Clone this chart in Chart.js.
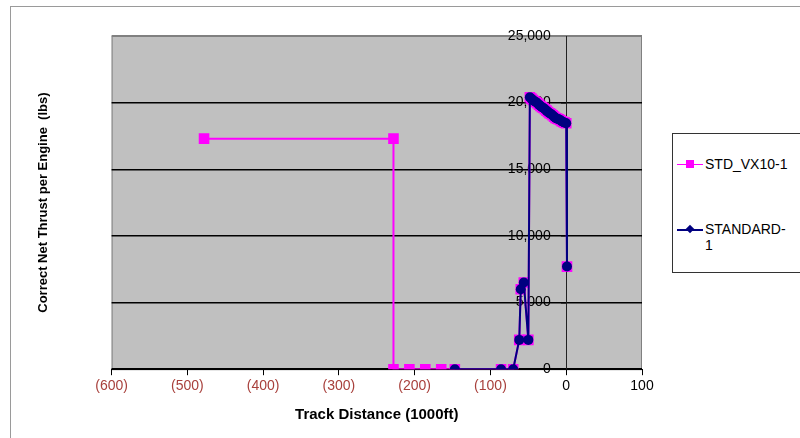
<!DOCTYPE html>
<html>
<head>
<meta charset="utf-8">
<script src="https://cdn.jsdelivr.net/npm/chart.js@4.4.1/dist/chart.umd.min.js"></script>
<style>
  body { margin: 0; background: #fff; font-family: "Liberation Sans", Arial, sans-serif; }
  #wrap { position: relative; width: 800px; height: 438px; overflow: hidden; }
  #frame { position: absolute; left: 10px; top: 6px; width: 820px; height: 460px; border: 1px solid #9a9a9a; }
  canvas { position: absolute; left: 0; top: 0; }
  #legend { position: absolute; left: 672px; top: 133px; width: 150px; height: 138px; border: 1px solid #333; background: #fff; }
  .item { position: absolute; left: 4px; font-size: 14px; color: #000; line-height: 16px; }
  .line { position: absolute; left: 0; width: 26px; height: 2px; }
  .mk { position: absolute; }
  .txt { position: absolute; left: 28px; top: -8px; white-space: nowrap; }
</style>
</head>
<body>
<div id="wrap">
  <div id="frame"></div>
  <canvas id="thrustChart" width="800" height="438"></canvas>
  <div id="legend">
    <div class="item" style="top:30px">
      <div class="line" style="background:#ff00ff;height:1px"></div>
      <div class="mk" style="left:9px;top:-4px;width:8px;height:8px;background:#ff00ff"></div>
      <div class="txt">STD_VX10-1</div>
    </div>
    <div class="item" style="top:95px">
      <div class="line" style="background:#000080"></div>
      <div class="mk" style="left:10px;top:-3px;width:6px;height:6px;background:#000080;transform:rotate(45deg)"></div>
      <div class="txt">STANDARD-<br>1</div>
    </div>
  </div>
</div>
<script>
// STD_VX10-1 (pink)
var stdX = [-478, -228, -228, -207, -186, -165, -147, -86, -70, -62, -60, -56, -50, -48,
  -46, -44, -42, -40, -38, -36, -34, -32, -30, -28, -26, -24, -22, -20, -18, -16, -14, -12,
  -10, -8, -6, -4, -2, 0, 1];
var stdY = [17300, 17300, 0, 0, 0, 0, 0, 0, 0, 2200, 6000, 6500, 2200, 20400,
  20300, 20200, 20100, 20050, 19950, 19850, 19750, 19650, 19600, 19500, 19400, 19300, 19200, 19150, 19050, 18950, 18850, 18800,
  18750, 18700, 18600, 18550, 18500, 18450, 7700];

// STANDARD-1 (navy)
var standardX = [-147, -86, -70, -62, -60, -56, -50, -48,
  -46, -44, -42, -40, -38, -36, -34, -32, -30, -28, -26, -24, -22, -20, -18, -16, -14, -12,
  -10, -8, -6, -4, -2, 0, 1];
var standardY = [0, 0, 0, 2200, 6000, 6500, 2200, 20400,
  20300, 20200, 20100, 20050, 19950, 19850, 19750, 19650, 19600, 19500, 19400, 19300, 19200, 19150, 19050, 18950, 18850, 18800,
  18750, 18700, 18600, 18550, 18500, 18450, 7700];

var xMin = -600, xMax = 100, xStep = 100;
var yMin = 0, yMax = 25000, yStep = 5000;

function pts(xs, ys) {
  return xs.map(function (x, i) { return { x: x, y: ys[i] }; });
}

var plotBg = {
  id: 'plotBg',
  beforeDraw: function (chart) {
    var a = chart.chartArea, ctx = chart.ctx;
    ctx.save();
    ctx.fillStyle = '#c0c0c0';
    ctx.fillRect(a.left, a.top, a.right - a.left, a.bottom - a.top);
    ctx.strokeStyle = '#808080';
    ctx.lineWidth = 1;
    ctx.strokeRect(a.left + 0.5, a.top + 0.5, a.right - a.left - 1, a.bottom - a.top);
    ctx.restore();
  }
};

const CHART = document.getElementById("thrustChart");
var thrustChart = new Chart(CHART, {
  type: 'scatter',
  data: {
    datasets: [{
      label: 'STD_VX10-1',
      data: pts(stdX, stdY),
      showLine: true,
      borderColor: '#ff00ff',
      backgroundColor: '#ff00ff',
      borderWidth: 2,
      pointStyle: 'rect',
      pointRadius: 7.5,
      pointBorderWidth: 0,
      order: 2
    }, {
      label: 'STANDARD-1',
      data: pts(standardX, standardY),
      showLine: true,
      borderColor: '#000080',
      backgroundColor: '#000080',
      borderWidth: 2,
      pointStyle: 'circle',
      pointRadius: 5,
      pointBorderWidth: 0,
      order: 1
    }]
  },
  options: {
    responsive: false,
    animation: false,
    layout: { padding: { left: 36, right: 158, top: 36, bottom: 14 } },
    plugins: {
      legend: { display: false },
      tooltip: { enabled: false }
    },
    scales: {
      x: {
        type: 'linear',
        position: 'bottom',
        min: xMin,
        max: xMax,
        border: { color: '#000', width: 1 },
        grid: { drawOnChartArea: false, drawTicks: true, tickLength: 6, color: '#000' },
        ticks: {
          stepSize: xStep,
          padding: 3,
          font: { family: 'Liberation Sans', size: 14 },
          color: function (c) { return c.tick && c.tick.value < 0 ? '#a8403c' : '#000'; },
          callback: function (v) { return v < 0 ? '(' + (-v) + ')' : String(v); }
        },
        title: {
          display: true,
          text: 'Track Distance (1000ft)',
          padding: { top: 8, bottom: 0 },
          font: { family: 'Liberation Sans', size: 15, weight: 'bold' },
          color: '#000'
        }
      },
      y: {
        type: 'linear',
        position: { x: 0 },
        min: yMin,
        max: yMax,
        border: { color: '#222', width: 1 },
        grid: {
          drawTicks: true,
          tickLength: 5,
          lineWidth: 1.5,
          color: function (c) { return c.tick && c.tick.value === yMax ? '#808080' : '#000'; }
        },
        ticks: {
          stepSize: yStep,
          font: { family: 'Liberation Sans', size: 14 },
          color: '#000',
          // trailing spaces keep the labels clear of the axis line
          callback: function (v) { return v.toLocaleString('en-US') + '    '; }
        }
      },
      yTitle: {
        type: 'linear',
        position: 'left',
        min: 0,
        max: 1,
        border: { display: false },
        grid: { display: false, drawTicks: false },
        ticks: { display: false },
        title: {
          display: true,
          text: 'Correct Net Thrust per Engine  (lbs)',
          padding: { top: 0, bottom: 60 },
          font: { family: 'Liberation Sans', size: 13, weight: 'bold' },
          color: '#000'
        }
      }
    }
  },
  plugins: [plotBg]
});
</script>
</body>
</html>
